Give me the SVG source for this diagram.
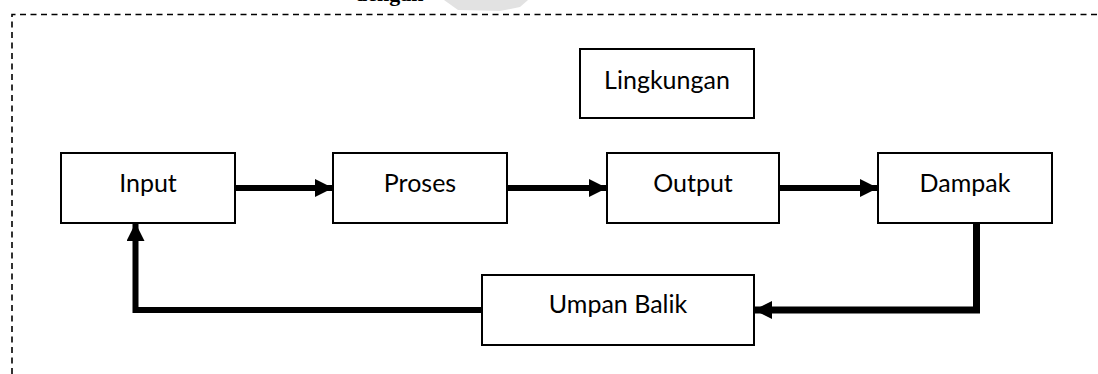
<svg xmlns="http://www.w3.org/2000/svg" width="1098" height="374" viewBox="0 0 1098 374">
  <style>
    .box { fill: #fff; stroke: #000; stroke-width: 2; }
    .label { font-family: Lato, "Open Sans", "Liberation Sans", sans-serif; font-size: 25px; fill: #000; text-anchor: middle; }
    .flow { fill: none; stroke: #000; stroke-width: 6; stroke-linejoin: miter; stroke-linecap: butt; }
    .frame { fill: none; stroke: #000; stroke-width: 1.6; stroke-dasharray: 6 4.5; }
    .heading { font-family: "Liberation Serif", serif; font-weight: bold; font-size: 22px; fill: #000; }
  </style>
  <defs>
    <marker id="head" markerUnits="userSpaceOnUse" markerWidth="18" markerHeight="18" refX="18" refY="9" orient="auto">
      <polygon points="0,0 18,9 0,18" fill="#000"/>
    </marker>
  </defs>

  <rect width="1098" height="374" fill="#fff"/>

  <!-- heading line above the frame, cut at the page top -->
  <path d="M444,0 L528,0 L520,7 L500,11 L458,10 Z" fill="#e2e2e2"/>
  <text class="heading" x="355" y="1">dengan</text>

  <!-- dashed system boundary -->
  <path class="frame" d="M12,374 L12,14.5 L1098,14.5"/>

  <g id="connectors">
    <line class="flow" x1="235" y1="188" x2="333" y2="188" marker-end="url(#head)"/>
    <line class="flow" x1="507" y1="188" x2="607" y2="188" marker-end="url(#head)"/>
    <line class="flow" x1="779" y1="188" x2="878" y2="188" marker-end="url(#head)"/>
    <polyline class="flow" points="976.5,223 976.5,310 754,310" style="stroke-width:7" marker-end="url(#head)"/>
    <polyline class="flow" points="482,310 135.5,310 135.5,223" marker-end="url(#head)"/>
  </g>

  <g id="lingkungan">
    <rect class="box" x="580" y="49" width="174" height="69"/>
    <text class="label" x="667" y="89">Lingkungan</text>
  </g>
  <g id="input">
    <rect class="box" x="61" y="153" width="174" height="70"/>
    <text class="label" x="148" y="192">Input</text>
  </g>
  <g id="proses">
    <rect class="box" x="333" y="153" width="174" height="70"/>
    <text class="label" x="420" y="192">Proses</text>
  </g>
  <g id="output">
    <rect class="box" x="607" y="153" width="172" height="70"/>
    <text class="label" x="693" y="192">Output</text>
  </g>
  <g id="dampak">
    <rect class="box" x="878" y="153" width="174" height="70"/>
    <text class="label" x="965" y="192">Dampak</text>
  </g>
  <g id="umpan-balik">
    <rect class="box" x="482" y="275" width="272" height="70"/>
    <text class="label" x="618" y="313">Umpan Balik</text>
  </g>
</svg>
